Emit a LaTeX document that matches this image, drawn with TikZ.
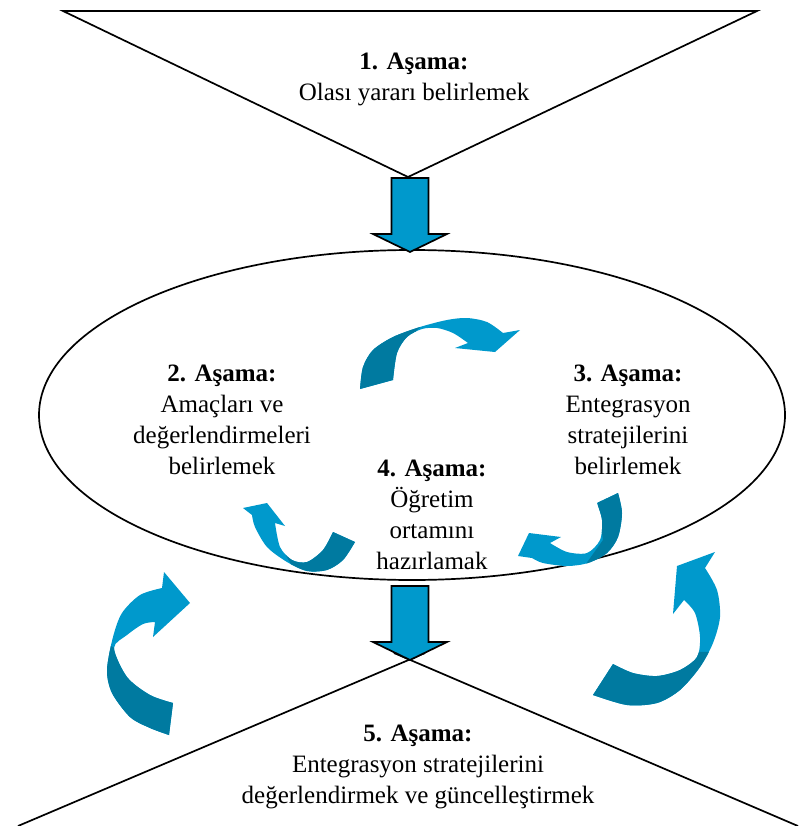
\documentclass[tikz,border=0pt]{standalone}
\usepackage{fontspec}
\setmainfont{Liberation Serif}
\definecolor{arrowlight}{RGB}{0,153,204}
\definecolor{arrowdark}{RGB}{0,122,160}
\tikzset{
  stage/.style={align=center, inner sep=0pt, font=\fontsize{25}{31}\selectfont},
  frame/.style={draw=black, line width=1.7pt, line join=miter},
  blockarrow/.style={fill=arrowlight, draw=black, line width=1.7pt, line join=miter},
  down arrow/.pic={
    \draw[blockarrow] (-18.5,0) -- (18.5,0) -- (18.5,56) -- (37,56) -- (0,74)
      -- (-37,56) -- (-18.5,56) -- cycle;
  }
}
% curved ribbon arrows: outline of each arrow
\def\ribbonA{(360,389) -- plot[smooth] coordinates {(360,389) (363,367) (373,350) (393,337) (420,327) (447,320) (467,318) (487,322) (503,333)}
  -- (520,330) -- (495,352) -- (455,348) -- (468,343)
  -- plot[smooth] coordinates {(468,343) (453,333) (437,328) (422,329) (407,337) (397,353) (393,380)} -- cycle}
\def\ribbonB{(243,508) -- (267,503) -- (285,526) -- (275,523)
  -- plot[smooth] coordinates {(275,523) (280,547) (292,560) (307,562) (323,550) (333,532)}
  -- (355,542)
  -- plot[smooth] coordinates {(355,542) (343,560) (327,570) (307,571) (287,562) (267,547) (255,527) (252,515)} -- cycle}
\def\ribbonC{(518,556) -- (529,533) -- (561,537) -- (550,543)
  -- plot[smooth] coordinates {(550,543) (567,552) (587,553) (600,540) (602,520) (597,503)}
  -- (618,493)
  -- plot[smooth] coordinates {(618,493) (622,513) (618,537) (607,553) (588,563) (567,566) (543,563) (532,558)} -- cycle}
\def\ribbonD{(164,572) -- (190,603) -- (153,637) -- (155,622)
  -- plot[smooth] coordinates {(155,622) (143,624) (127,635) (114,648) (127,677) (150,695) (173,703)}
  -- (169,735)
  -- plot[smooth] coordinates {(169,735) (150,728) (130,717) (112,693) (107,670) (113,637) (122,613) (140,595) (162,588)} -- cycle}
\def\ribbonE{(715,552) -- (705,568)
  -- plot[smooth] coordinates {(705,568) (717,590) (720,617) (713,643) (700,667) (680,690) (657,703) (627,705) (593,695)}
  -- (613,664)
  -- plot[smooth] coordinates {(613,664) (633,673) (657,676) (680,670) (697,657) (700,637) (695,613) (684,600)}
  -- (673,614) -- (677,566) -- cycle}
\begin{document}
\begin{tikzpicture}[x=1pt, y=-1pt]
\useasboundingbox (0,0) rectangle (798,826);

% funnel at the top and crossing lines at the bottom
\draw[frame] (63,11) -- (757,11) -- (408,177) -- cycle;
\draw[frame] (425,653) -- (18,826);
\draw[frame] (394,653) -- (798,826);

% central ellipse
\draw[frame] (412,415) ellipse [x radius=373pt, y radius=165pt];

% block arrows between the stages
\pic at (410,178) {down arrow};
\pic at (410,586) {down arrow};

% curved arrows: light body, darker tail
\fill[arrowlight] \ribbonA;
\begin{scope}\clip \ribbonA; \fill[arrowdark] (340,300) -- (424,300) -- (420,327) -- (402,345) -- (395,400) -- (340,400) -- cycle;\end{scope}
\fill[arrowlight] \ribbonB;
\begin{scope}\clip \ribbonB; \fill[arrowdark] (300,510) -- (280,545) -- (300,580) -- (380,580) -- (380,510) -- cycle;\end{scope}
\fill[arrowlight] \ribbonC;
\begin{scope}\clip \ribbonC; \fill[arrowdark] (578,575) -- (603,540) -- (595,485) -- (640,485) -- (640,575) -- cycle;\end{scope}
\fill[arrowlight] \ribbonD;
\begin{scope}\clip \ribbonD; \fill[arrowdark] (95,637) -- (118,650) -- (200,660) -- (200,750) -- (90,750) -- cycle;\end{scope}
\fill[arrowlight] \ribbonE;
\begin{scope}\clip \ribbonE; \fill[arrowdark] (712,652) -- (682,710) -- (580,710) -- (580,650) -- cycle;\end{scope}

% stage labels
\node[stage] (s1) at (414,79) {\textbf{1. Aşama:}\\Olası yararı belirlemek};
\node[stage] (s2) at (222,420) {\textbf{2. Aşama:}\\Amaçları ve\\değerlendirmeleri\\belirlemek};
\node[stage] (s3) at (628,420) {\textbf{3. Aşama:}\\Entegrasyon\\stratejilerini\\belirlemek};
\node[stage] (s4) at (432,515) {\textbf{4. Aşama:}\\Öğretim\\ortamını\\hazırlamak};
\node[stage] (s5) at (418,767) {\textbf{5. Aşama:}\\Entegrasyon stratejilerini\\değerlendirmek ve güncelleştirmek};
\end{tikzpicture}
\end{document}
